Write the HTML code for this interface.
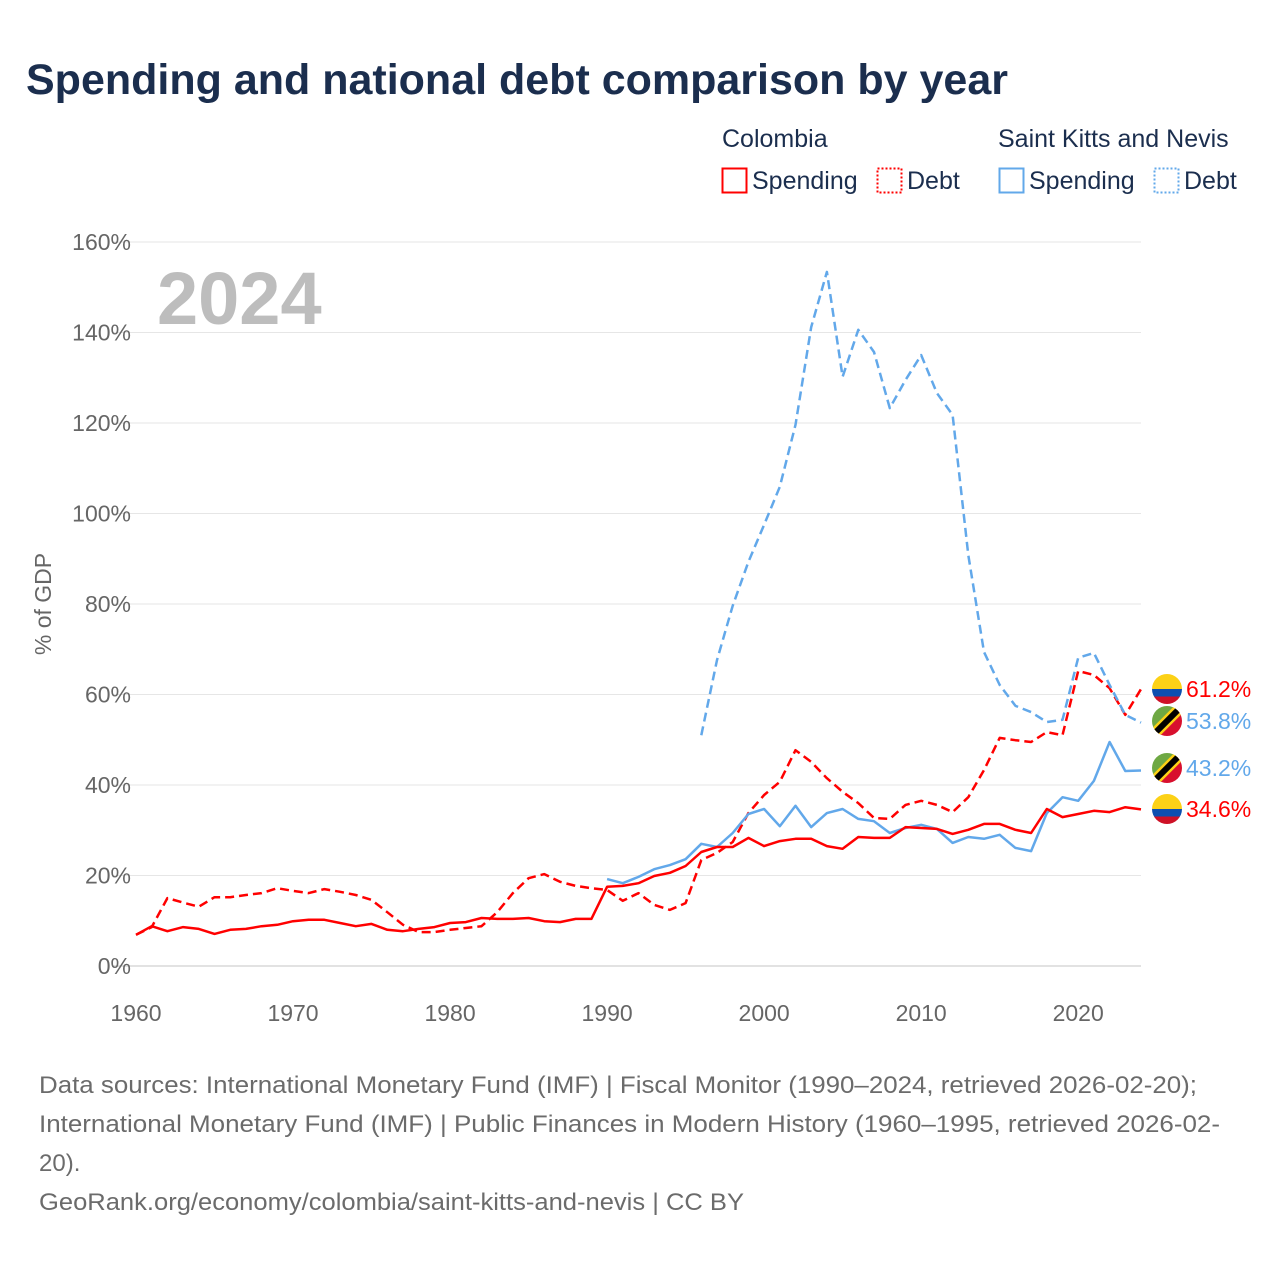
<!DOCTYPE html>
<html><head><meta charset="utf-8"><style>
html,body{margin:0;padding:0;background:#fff;}
svg{display:block;font-family:"Liberation Sans",sans-serif;}
</style></head><body>
<svg id="chart" width="1280" height="1280" viewBox="0 0 1280 1280">
<text x="26" y="94" font-size="43" font-weight="bold" fill="#1b2e4e">Spending and national debt comparison by year</text>
<g font-size="25" fill="#1b2e4e">
<text x="722" y="147">Colombia</text>
<g><rect x="722.5" y="168.5" width="24" height="24" fill="none" stroke="#ff0000" stroke-width="2"/><text x="752" y="189">Spending</text></g>
<g><rect x="877.5" y="168.5" width="24" height="24" fill="none" stroke="#ff0000" stroke-width="2" stroke-dasharray="2,2"/><text x="907" y="189">Debt</text></g>
<text x="998" y="147">Saint Kitts and Nevis</text>
<g><rect x="999.5" y="168.5" width="24" height="24" fill="none" stroke="#62a8ea" stroke-width="2"/><text x="1029" y="189">Spending</text></g>
<g><rect x="1154.5" y="168.5" width="24" height="24" fill="none" stroke="#62a8ea" stroke-width="2" stroke-dasharray="2,2"/><text x="1184" y="189">Debt</text></g>
</g>
<g id="grid"></g>
<text x="157" y="324" font-size="74" font-weight="bold" fill="#bdbdbd">2024</text>
<text transform="translate(51,604) rotate(-90)" text-anchor="middle" font-size="23" fill="#666">% of GDP</text>
<g id="series"></g>
<g id="flags"></g>
<g font-size="24" fill="#6b6b6b">
<text x="39" y="1093" textLength="1158" lengthAdjust="spacingAndGlyphs">Data sources: International Monetary Fund (IMF) | Fiscal Monitor (1990–2024, retrieved 2026-02-20);</text>
<text x="39" y="1132" textLength="1181" lengthAdjust="spacingAndGlyphs">International Monetary Fund (IMF) | Public Finances in Modern History (1960–1995, retrieved 2026-02-</text>
<text x="39" y="1171">20).</text>
<text x="39" y="1210" textLength="705" lengthAdjust="spacingAndGlyphs">GeoRank.org/economy/colombia/saint-kitts-and-nevis | CC BY</text>
</g>
</svg>
<script>
const yTicks = [0,20,40,60,80,100,120,140,160];
const xTicks = [1960,1970,1980,1990,2000,2010,2020];
const colSpendStart = 1960;
const colSpending = [6.9,8.8,7.7,8.6,8.2,7.1,8.0,8.2,8.8,9.1,9.9,10.2,10.2,9.5,8.8,9.3,8.0,7.7,8.2,8.6,9.5,9.7,10.6,10.4,10.4,10.6,9.9,9.7,10.4,10.4,
17.5,17.7,18.3,19.9,20.6,22.1,25.2,26.3,26.3,28.3,26.5,27.6,28.1,28.1,26.5,25.9,28.5,28.3,28.3,30.7,30.5,30.3,29.2,30.1,31.4,31.4,30.1,29.4,34.7,32.9,33.6,34.3,34.0,35.1,34.6];
const colDebtStart = 1960;
const colDebt = [6.9,8.6,15.0,14.0,13.1,15.2,15.2,15.7,16.1,17.2,16.6,16.1,17.0,16.4,15.7,14.6,11.9,9.1,7.5,7.5,8.0,8.4,8.8,11.9,16.1,19.4,20.3,18.6,17.7,17.2,
16.8,14.4,16.1,13.5,12.4,13.9,23.4,25.0,27.4,33.8,37.8,40.7,47.7,45.1,41.5,38.5,36.0,32.7,32.5,35.6,36.5,35.6,34.0,37.3,43.3,50.4,49.9,49.5,51.7,51.0,65.2,64.3,61.4,55.5,61.2];
const sknSpendStart = 1990;
const sknSpending = [19.2,18.3,19.7,21.4,22.3,23.6,27.0,26.3,29.4,33.6,34.7,30.9,35.4,30.7,33.8,34.7,32.5,32.0,29.4,30.5,31.2,30.3,27.2,28.5,28.1,29.0,26.1,25.4,33.8,37.3,36.5,40.9,49.5,43.1,43.2];
const sknDebtStart = 1996;
const sknDebt = [51.0,67.6,79.6,89.3,97.5,105.9,119.6,141.2,153.4,130.2,140.6,135.7,123.3,129.5,135.0,126.6,121.8,90.8,69.4,62.1,57.5,56.1,53.9,54.4,68.1,69.2,62.1,55.5,53.8];

const NS='http://www.w3.org/2000/svg';
const X = y => 136 + (y-1960)*(1141-136)/64;
const Y = v => 966 - v*(966-242)/160;
function mk(tag, attrs, parent){const e=document.createElementNS(NS,tag);for(const k in attrs)e.setAttribute(k,attrs[k]);parent.appendChild(e);return e;}
const grid=document.getElementById('grid');
yTicks.forEach(t=>{
  const l=mk('line',{x1:112,x2:1141,y1:Y(t),y2:Y(t),stroke:t===0?'#d8d8d8':'#e6e6e6','stroke-width':t===0?1.5:1},grid);
  
  
  const tx=mk('text',{x:131,y:Y(t)+8,'text-anchor':'end','font-size':23,fill:'#666'},grid);
  tx.textContent=t+'%';
  
  
});
xTicks.forEach(t=>{
  const tx=mk('text',{x:X(t),y:1021,'text-anchor':'middle','font-size':23,fill:'#666'},grid);
  tx.textContent=t;
  
  
});
const series=document.getElementById('series');
function line(vals,start,color,dash,name){
  const d=vals.map((v,i)=>(i?'L':'M')+X(start+i).toFixed(1)+','+Y(v).toFixed(1)).join('');
  const p=mk('path',{d:d,fill:'none',stroke:color,'stroke-width':2.5,'stroke-linejoin':'round'},series);
  if(dash)p.setAttribute('stroke-dasharray','9,5');
  
  
}
line(colDebt,colDebtStart,'#ff0000',true,'colombia-debt-line');
line(sknDebt,sknDebtStart,'#62a8ea',true,'skn-debt-line');
line(sknSpending,sknSpendStart,'#62a8ea',false,'skn-spending-line');
line(colSpending,colSpendStart,'#ff0000',false,'colombia-spending-line');

const flags=document.getElementById('flags');
const defs=mk('defs',{},flags);
const cp=mk('clipPath',{id:'circ'},defs); mk('circle',{cx:0,cy:0,r:15},cp);
function colFlag(g){mk('rect',{x:-15,y:-15,width:30,height:15,fill:'#fcd116'},g);mk('rect',{x:-15,y:0,width:30,height:7.5,fill:'#0d4fb0'},g);mk('rect',{x:-15,y:7.5,width:30,height:8,fill:'#ce1126'},g);}
function sknFlag(g){mk('polygon',{points:'-15,-15 15,-15 -15,15',fill:'#6ea843'},g);mk('polygon',{points:'15,-15 15,15 -15,15',fill:'#d8102e'},g);mk('line',{x1:-15,y1:15,x2:15,y2:-15,stroke:'#fcd116','stroke-width':11},g);mk('line',{x1:-15,y1:15,x2:15,y2:-15,stroke:'#000','stroke-width':6},g);}
const endLabels=[
 {y:689,flag:'col',txt:colDebt[colDebt.length-1],color:'#ff0000',name:'colombia-debt-end-label'},
 {y:721,flag:'skn',txt:sknDebt[sknDebt.length-1],color:'#62a8ea',name:'skn-debt-end-label'},
 {y:768,flag:'skn',txt:sknSpending[sknSpending.length-1],color:'#62a8ea',name:'skn-spending-end-label'},
 {y:809,flag:'col',txt:colSpending[colSpending.length-1],color:'#ff0000',name:'colombia-spending-end-label'}];
endLabels.forEach(e=>{
  const g=mk('g',{transform:'translate(1167,'+e.y+')','clip-path':'url(#circ)'},flags);
  
  
  if(e.flag==='col')colFlag(g);else sknFlag(g);
  const t=mk('text',{x:1186,y:e.y+8,'font-size':23,fill:e.color},flags);
  t.textContent=e.txt.toFixed(1)+'%';
  
  
});
</script>
</body></html>
